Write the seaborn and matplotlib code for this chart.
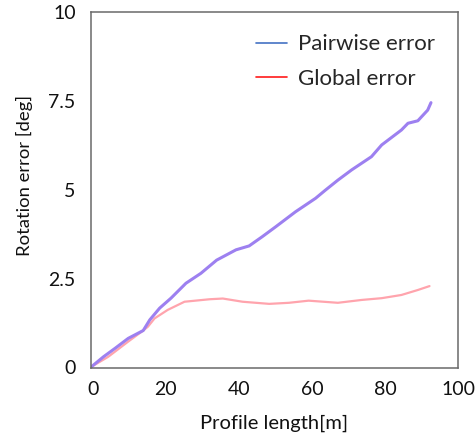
import matplotlib
matplotlib.use("Agg")
import matplotlib.pyplot as plt
from matplotlib.lines import Line2D
import seaborn as sns
import pandas as pd

# Pairwise error series
pair_x = [-0.4, 2.9, 6.1, 9.7, 13.8, 15.6, 18.3, 21.4, 25.5, 29.6, 33.9, 39.2, 42.8,
          46.4, 50.1, 55.5, 61.0, 63.7, 67.1, 70.9, 76.3, 79.1, 84.5, 86.3, 89.0, 91.7, 92.6]
pair_y = [0.02, 0.30, 0.54, 0.82, 1.04, 1.34, 1.67, 1.95, 2.37, 2.65, 3.02, 3.31, 3.42,
          3.68, 3.96, 4.38, 4.76, 4.99, 5.27, 5.56, 5.93, 6.26, 6.68, 6.87, 6.94, 7.24, 7.45]

# Global error series
glob_x = [-0.4, 4.2, 9.7, 13.8, 15.1, 16.9, 20.5, 25.1, 32.0, 35.6, 41.0, 48.3, 53.7,
          59.1, 67.1, 73.6, 79.1, 84.5, 89.0, 92.2]
glob_y = [0.02, 0.30, 0.73, 1.04, 1.15, 1.38, 1.62, 1.85, 1.92, 1.94, 1.85, 1.79, 1.82,
          1.88, 1.82, 1.90, 1.95, 2.04, 2.18, 2.29]

labels = ["Pairwise error", "Global error"]
x_ticks = [0, 20, 40, 60, 80, 100]
y_ticks = [0, 2.5, 5, 7.5, 10]
y_tick_labels = ["0", "2.5", "5", "7.5", "10"]

sns.set_theme(style="white")
plt.rcParams['font.family'] = ['Lato', 'DejaVu Sans']

fig = plt.figure(figsize=(4.77, 4.36), dpi=100)
ax = fig.add_axes([91/477, 1 - 367.5/436, (458 - 91)/477, (367.5 - 12)/436])

df_p = pd.DataFrame({"x": pair_x, "y": pair_y})
df_g = pd.DataFrame({"x": glob_x, "y": glob_y})
sns.lineplot(data=df_g, x="x", y="y", ax=ax, color="#ff9aa4", lw=1.6, alpha=0.9)
sns.lineplot(data=df_p, x="x", y="y", ax=ax, color="#9d80f0", lw=2.2)

ax.set_xlim(-0.5, 99.5)
ax.set_ylim(0, 10)
ax.set_xticks(x_ticks)
ax.set_yticks(y_ticks)
ax.set_yticklabels(y_tick_labels)
ax.tick_params(axis="both", direction="in", length=2.5, width=0.8, color="#444444",
               labelsize=14, labelcolor="#111111")
ax.tick_params(axis="x", pad=10)
ax.tick_params(axis="y", pad=11)
ax.set_xlabel("Profile length[m]", fontsize=14.5, color="#111111", labelpad=12)
ax.set_ylabel("Rotation error [deg]", fontsize=13.3, color="#111111")
ax.yaxis.set_label_coords(-0.158, 0.539)
for s in ax.spines.values():
    s.set_color("#6a6a6a")
    s.set_linewidth(1.1)
    s.set_visible(True)

handles = [Line2D([], [], color="#4472c4", lw=1.2), Line2D([], [], color="#ff1a1a", lw=1.2)]
ax.legend(handles, labels, loc="upper left", bbox_to_anchor=(0.45, 0.937), frameon=False,
          borderaxespad=0, borderpad=0,
          fontsize=16, handlelength=1.4, handletextpad=0.5, labelspacing=0.66)

fig.savefig("out.png", dpi=100)
